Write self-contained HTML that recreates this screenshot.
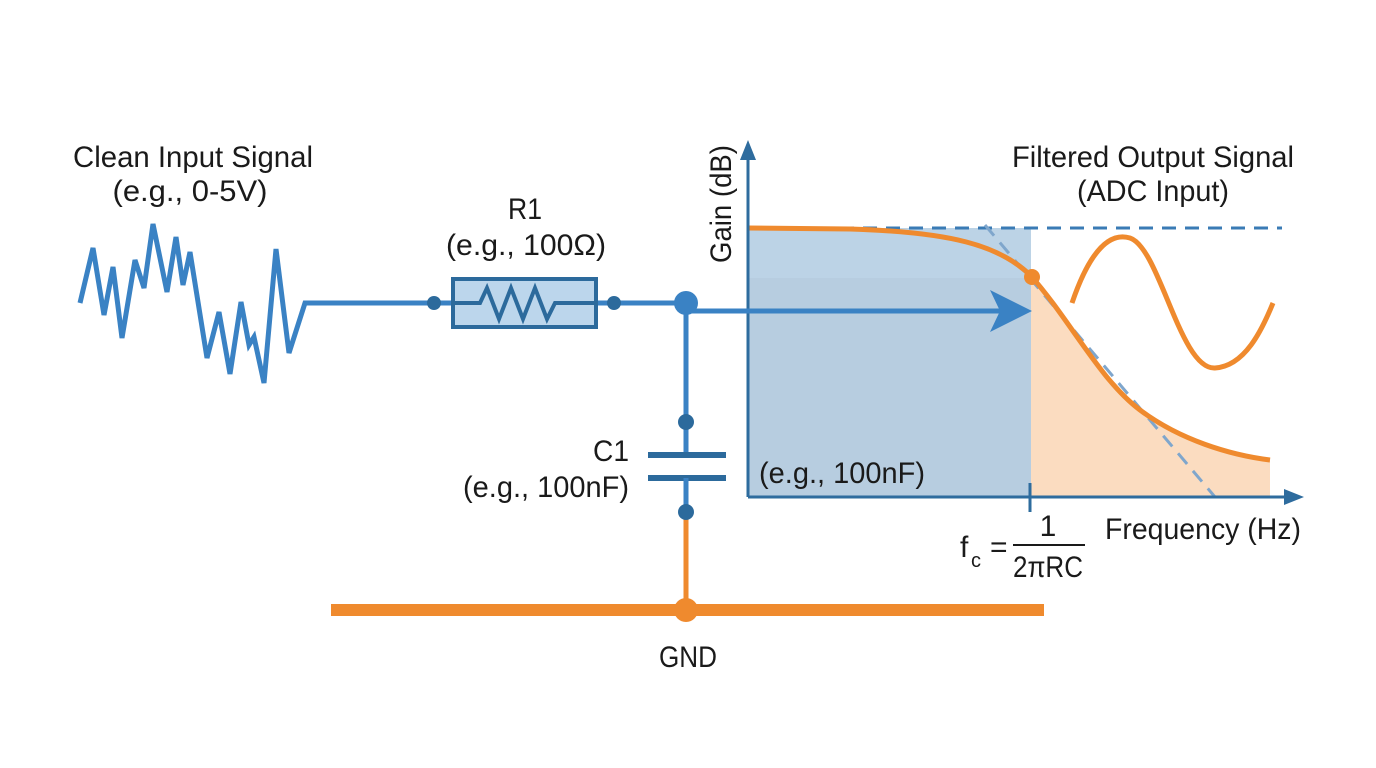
<!DOCTYPE html>
<html><head><meta charset="utf-8"><style>
html,body{margin:0;padding:0;background:#fff}
svg{display:block}
text{font-family:"Liberation Sans",sans-serif;fill:#1a1a1a;font-size:30px}
</style></head><body>
<svg width="1376" height="768" viewBox="0 0 1376 768" xmlns="http://www.w3.org/2000/svg">
<rect x="748" y="228" width="283" height="269" fill="#bcd3e6"/>
<rect x="748" y="278" width="283" height="219" fill="#b4c9dc" opacity="0.6"/>
<path d="M1031,276 C1070,320 1100,380 1140,410 C1180,440 1230,455 1270,460 L1270,497 L1031,497 Z" fill="#fbdcc0"/>
<line x1="748" y1="228" x2="1282" y2="228" stroke="#3a7bb5" stroke-width="3" stroke-dasharray="14,9"/>
<line x1="985" y1="225" x2="1215" y2="497" stroke="#7fa6cc" stroke-width="3" stroke-dasharray="14,9"/>
<path d="M748,228 L850,229 C950,232 1000,245 1031,276 C1070,320 1100,380 1140,410 C1180,440 1230,455 1270,460" fill="none" stroke="#ef8a2e" stroke-width="5"/>
<circle cx="1032" cy="277" r="8" fill="#ef8a2e"/>
<path d="M1072,303 C1090,250 1110,232 1130,238 C1160,248 1180,370 1215,368 C1245,366 1262,330 1273,303" fill="none" stroke="#ef8a2e" stroke-width="5"/>
<line x1="748" y1="497" x2="748" y2="155" stroke="#2e6c9e" stroke-width="3"/>
<polygon points="748,140 740,160 756,160" fill="#2e6c9e"/>
<line x1="748" y1="497" x2="1290" y2="497" stroke="#2e6c9e" stroke-width="3"/>
<polygon points="1304,497 1284,489 1284,505" fill="#2e6c9e"/>
<line x1="1030" y1="483" x2="1030" y2="512" stroke="#2e6c9e" stroke-width="3"/>
<line x1="686" y1="311" x2="1000" y2="311" stroke="#3a82c4" stroke-width="5"/>
<polygon points="1032,311 990,290 1000,311 990,332" fill="#3a82c4"/>
<polyline points="80,303 93,248 104,315 113,267 122,338 135,260 144,288 153,224 167,292 176,237 183,285 190,252 207,358 219,312 230,374 241,302 249,345 254,337 264,383 276,249 289,353 305,303 432,303" fill="none" stroke="#3a82c4" stroke-width="5"/>
<line x1="432" y1="303" x2="686" y2="303" stroke="#3a82c4" stroke-width="5"/>
<rect x="453" y="279" width="143" height="48" fill="#bcd6ec" stroke="#2c6a9c" stroke-width="4"/>
<polyline points="453,303 480,303 487,288 499,319 511,288 523,319 535,288 547,319 555,303 596,303" fill="none" stroke="#2c6a9c" stroke-width="4"/>
<circle cx="434" cy="303" r="7" fill="#2c6a9c"/>
<circle cx="614" cy="303" r="7" fill="#2c6a9c"/>
<circle cx="686" cy="303" r="12" fill="#3a82c4"/>
<line x1="686" y1="303" x2="686" y2="455" stroke="#3a82c4" stroke-width="5"/>
<line x1="648" y1="455" x2="726" y2="455" stroke="#2c6a9c" stroke-width="6"/>
<line x1="648" y1="478" x2="726" y2="478" stroke="#2c6a9c" stroke-width="6"/>
<line x1="686" y1="478" x2="686" y2="515" stroke="#3a82c4" stroke-width="5"/>
<line x1="686" y1="515" x2="686" y2="610" stroke="#ef8a2e" stroke-width="5"/>
<circle cx="686" cy="422" r="8" fill="#2c6a9c"/>
<circle cx="686" cy="512" r="8" fill="#2c6a9c"/>
<line x1="331" y1="610" x2="1044" y2="610" stroke="#ef8a2e" stroke-width="12"/>
<circle cx="686" cy="610" r="12" fill="#ef8a2e"/>
<text x="193" y="167" text-anchor="middle" textLength="240" lengthAdjust="spacingAndGlyphs">Clean Input Signal</text>
<text x="190" y="201" text-anchor="middle" textLength="155" lengthAdjust="spacingAndGlyphs">(e.g., 0-5V)</text>
<text x="525" y="219" text-anchor="middle" textLength="34" lengthAdjust="spacingAndGlyphs">R1</text>
<text x="526" y="255" text-anchor="middle" textLength="160" lengthAdjust="spacingAndGlyphs">(e.g., 100Ω)</text>
<text x="611" y="461" text-anchor="middle" textLength="36" lengthAdjust="spacingAndGlyphs">C1</text>
<text x="546" y="497" text-anchor="middle" textLength="166" lengthAdjust="spacingAndGlyphs">(e.g., 100nF)</text>
<text x="842" y="483" text-anchor="middle" textLength="166" lengthAdjust="spacingAndGlyphs">(e.g., 100nF)</text>
<text x="688" y="667" text-anchor="middle" textLength="58" lengthAdjust="spacingAndGlyphs">GND</text>
<text x="1153" y="167" text-anchor="middle" textLength="282" lengthAdjust="spacingAndGlyphs">Filtered Output Signal</text>
<text x="1153" y="201" text-anchor="middle" textLength="152" lengthAdjust="spacingAndGlyphs">(ADC Input)</text>
<text transform="translate(731,204) rotate(-90)" text-anchor="middle" textLength="118" lengthAdjust="spacingAndGlyphs">Gain (dB)</text>
<text x="1203" y="539" text-anchor="middle" textLength="196" lengthAdjust="spacingAndGlyphs">Frequency (Hz)</text>
<text x="960" y="557">f</text>
<text x="971" y="567" style="font-size:20px">c</text>
<text x="990" y="557">=</text>
<text x="1048" y="536" text-anchor="middle">1</text>
<line x1="1013" y1="545" x2="1085" y2="545" stroke="#1a1a1a" stroke-width="2"/>
<text x="1048" y="577" text-anchor="middle" textLength="70" lengthAdjust="spacingAndGlyphs">2πRC</text>
</svg>
</body></html>
